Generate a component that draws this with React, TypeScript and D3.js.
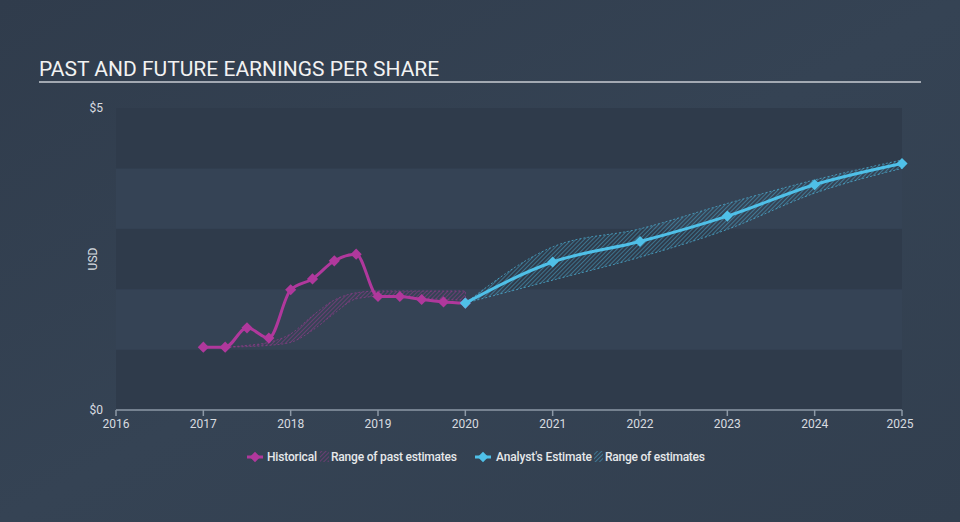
import React from "react";
import * as d3 from "d3";

const histDates = [2017.0, 2017.25, 2017.5, 2017.75, 2018.0, 2018.25, 2018.5, 2018.75, 2019.0, 2019.25, 2019.5, 2019.75, 2020.0];
const histValues = [1.04, 1.04, 1.36, 1.19, 1.99, 2.17, 2.47, 2.58, 1.88, 1.88, 1.83, 1.79, 1.77];

const pastRangeDates = [2017.25, 2017.5, 2017.75, 2018.0, 2018.25, 2018.5, 2018.75, 2019.0, 2019.25, 2019.5, 2019.75, 2020.0];
const pastRangeHigh = [1.04, 1.07, 1.12, 1.26, 1.56, 1.82, 1.94, 1.97, 1.97, 1.97, 1.97, 1.97];
const pastRangeLow = [1.04, 1.05, 1.07, 1.12, 1.32, 1.6, 1.84, 1.88, 1.87, 1.85, 1.83, 1.82];

const estDates = [2020, 2021, 2022, 2023, 2024, 2025];
const estValues = [1.77, 2.45, 2.79, 3.21, 3.73, 4.08];
const estHigh = [1.77, 2.7, 3.0, 3.42, 3.81, 4.14];
const estLow = [1.77, 2.15, 2.53, 2.99, 3.59, 4.0];

const xTicks = [2016, 2017, 2018, 2019, 2020, 2021, 2022, 2023, 2024, 2025];
const yTickLabels = ["$0", "$5"];
const yTickValues = [0, 5];
const bandEdges = [0, 1, 2, 3, 4, 5];

const title = "PAST AND FUTURE EARNINGS PER SHARE";

const W = 960;
const H = 522;
const HIST = "#b0389c";
const EST = "#4fc0e8";

export default function App() {
  const x = d3.scaleLinear().domain([2016, 2025]).range([116, 902]);
  const y = d3.scaleLinear().domain([0, 5]).range([410, 108]);

  const line = d3
    .line<[number, number]>()
    .x((d) => x(d[0]))
    .y((d) => y(d[1]))
    .curve(d3.curveMonotoneX);

  const area = d3
    .area<[number, number, number]>()
    .x((d) => x(d[0]))
    .y0((d) => y(d[2]))
    .y1((d) => y(d[1]))
    .curve(d3.curveMonotoneX);

  const histPts = histDates.map((d, i) => [d, histValues[i]] as [number, number]);
  const estPts = estDates.map((d, i) => [d, estValues[i]] as [number, number]);
  const pastArea = pastRangeDates.map((d, i) => [d, pastRangeHigh[i], pastRangeLow[i]] as [number, number, number]);
  const estArea = estDates.map((d, i) => [d, estHigh[i], estLow[i]] as [number, number, number]);

  const diamond = d3.symbol().type(d3.symbolSquare).size(62)() as string;
  const legendDiamond = d3.symbol().type(d3.symbolSquare).size(56)() as string;

  const font = "Roboto, 'Noto Sans', sans-serif";

  return (
    <svg width={W} height={H} style={{ position: "absolute", left: 0, top: 0, display: "block" }}>
      <defs>
        <linearGradient id="bg" x1="0" y1="0" x2="1" y2="1">
          <stop offset="0" stopColor="#303c4c" />
          <stop offset="0.5" stopColor="#354354" />
          <stop offset="1" stopColor="#323f4f" />
        </linearGradient>
        <pattern id="hatchPast" width="3" height="3" patternUnits="userSpaceOnUse" patternTransform="rotate(45)">
          <line x1="0" y1="0" x2="0" y2="3" stroke={HIST} strokeWidth="1" strokeOpacity="0.85" />
        </pattern>
        <pattern id="hatchEst" width="3" height="3" patternUnits="userSpaceOnUse" patternTransform="rotate(45)">
          <line x1="0" y1="0" x2="0" y2="3" stroke={EST} strokeWidth="1" strokeOpacity="0.85" />
        </pattern>
      </defs>
      <rect x={0} y={0} width={W} height={H} fill="url(#bg)" />

      <text x={39} y={76} fill="#f2f2f2" fontFamily={font} fontSize={21}>
        {title}
      </text>
      <line x1={39} x2={921} y1={82} y2={82} stroke="#c8cdd3" strokeWidth={1.5} />

      {bandEdges.slice(0, -1).map((b, i) => (
        <rect
          key={b}
          x={x(2016)}
          width={x(2025) - x(2016)}
          y={y(b + 1)}
          height={y(b) - y(b + 1)}
          fill={i % 2 === 0 ? "#2f3b4b" : "#354355"}
        />
      ))}

      {yTickValues.map((v, i) => (
        <text key={v} x={103} y={y(v) + 4} textAnchor="end" fill="#d8dce0" fontFamily={font} fontSize={12}>
          {yTickLabels[i]}
        </text>
      ))}
      <text
        transform={`translate(97,${(y(0) + y(5)) / 2}) rotate(-90)`}
        textAnchor="middle"
        fill="#d8dce0"
        fontFamily={font}
        fontSize={12}
      >
        USD
      </text>

      <line x1={x(2016)} x2={x(2025)} y1={410} y2={410} stroke="#8d99a6" strokeWidth={1.5} />
      {xTicks.map((t) => (
        <g key={t}>
          <line x1={x(t)} x2={x(t)} y1={410} y2={416} stroke="#8d99a6" strokeWidth={1.5} />
          <text
            x={t === 2025 ? x(t) - 2 : x(t)}
            y={428}
            textAnchor="middle"
            fill="#d8dce0"
            fontFamily={font}
            fontSize={12}
          >
            {t}
          </text>
        </g>
      ))}

      <path d={area(pastArea) as string} fill="url(#hatchPast)" stroke={HIST} strokeOpacity={0.7} strokeWidth={0.8} strokeDasharray="2,2" />
      <path d={area(estArea) as string} fill="url(#hatchEst)" stroke={EST} strokeOpacity={0.8} strokeWidth={0.8} strokeDasharray="2,2" />

      <path d={line(histPts) as string} fill="none" stroke={HIST} strokeWidth={3} strokeLinejoin="round" />
      {histPts.map((p, i) => (
        <path key={i} d={diamond} transform={`translate(${x(p[0])},${y(p[1])}) rotate(45)`} fill={HIST} />
      ))}

      <path d={line(estPts) as string} fill="none" stroke={EST} strokeWidth={3} strokeLinejoin="round" />
      {estPts.map((p, i) => (
        <path key={i} d={diamond} transform={`translate(${x(p[0])},${y(p[1])}) rotate(45)`} fill={EST} />
      ))}

      {/* legend */}
      <g fontFamily={font} fontSize={12} fill="#e6e8ea" fontWeight={500}>
        <line x1={247} x2={263} y1={457} y2={457} stroke={HIST} strokeWidth={3} />
        <path d={legendDiamond} transform="translate(255,457) rotate(45)" fill={HIST} />
        <text x={267} y={461} textLength={50}>Historical</text>
        <rect x={320} y={451} width={9} height={11} fill="url(#hatchPast)" />
        <text x={331} y={461} textLength={126}>Range of past estimates</text>

        <line x1={475} x2={491} y1={457} y2={457} stroke={EST} strokeWidth={3} />
        <path d={legendDiamond} transform="translate(483,457) rotate(45)" fill={EST} />
        <text x={496} y={461} textLength={96}>Analyst's Estimate</text>
        <rect x={594} y={451} width={9} height={11} fill="url(#hatchEst)" />
        <text x={605} y={461} textLength={100}>Range of estimates</text>
      </g>
    </svg>
  );
}
